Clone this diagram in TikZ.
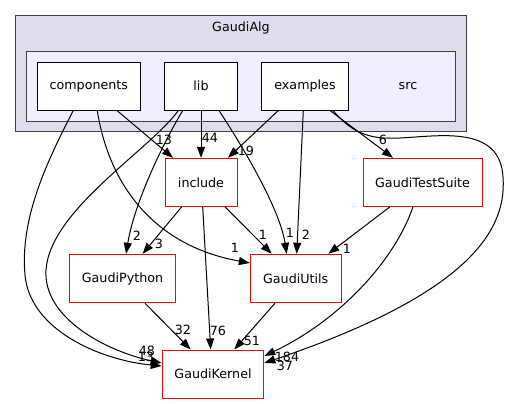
\documentclass[tikz,border=0pt]{standalone}
\usepackage{fontspec}
\setmainfont{DejaVu Sans}
\usetikzlibrary{arrows.meta}
\definecolor{outerfill}{HTML}{DDDDEE}
\definecolor{innerfill}{HTML}{EEEEFF}
\definecolor{clusterline}{HTML}{404040}
\begin{document}
\begin{tikzpicture}[x=1pt,y=-1pt,
  every node/.style={font=\fontsize{12.7}{15}\selectfont},
  dirbox/.style={draw=black,line width=1pt,fill=white,minimum height=47.7pt,inner sep=0pt},
  redbox/.style={draw=red,line width=1pt,fill=white,minimum height=48pt,inner sep=0pt},
  lbl/.style={inner sep=0pt,font=\fontsize{12.7}{15}\selectfont},
  dep/.style={draw=black,line width=1pt,-{Triangle[length=11pt,width=8pt]}}]
\useasboundingbox (0,0) rectangle (509,404);
% clusters
\draw[clusterline,line width=1pt,fill=outerfill] (15.7,15.7) rectangle (466.7,131.3);
\node[lbl] (galg) at (241,27.7) {GaudiAlg};
\draw[clusterline,line width=1pt,fill=innerfill] (26.3,51.7) rectangle (455.7,121);
\node[lbl] (srclbl) at (408,86) {src};
% directory nodes
\node[dirbox,minimum width=103pt] (comp) at (88.8,86.2) {components};
\node[dirbox,minimum width=72.6pt] (lib) at (201,86.2) {lib};
\node[dirbox,minimum width=87.4pt] (exa) at (305,86.2) {examples};
\node[redbox,minimum width=72pt] (inc) at (201,182.3) {include};
\node[redbox,minimum width=119pt] (gts) at (422.5,182.3) {GaudiTestSuite};
\node[redbox,minimum width=105.6pt,minimum height=48.4pt] (gp) at (122.5,278.5) {GaudiPython};
\node[redbox,minimum width=90.7pt,minimum height=48.4pt] (gu) at (295.7,278.5) {GaudiUtils};
\node[redbox,minimum width=101.7pt] (gk) at (213,374) {GaudiKernel};
% edges from components
\draw[dep] ([xshift=28.2pt]comp.south) -- ([xshift=-28pt]inc.north);
\draw[dep] ([xshift=-15.5pt]comp.south) .. controls (45,165) and (20,220) .. (25,275)
  .. controls (30,330) and (100,360) .. ([yshift=8pt]gk.west);
\draw[dep] ([xshift=8.5pt]comp.south) .. controls (108,180) and (150,245) .. ([yshift=15.5pt]gu.west);
% edges from lib
\draw[dep] (lib.south) -- (inc.north);
\draw[dep] ([xshift=-18.3pt]lib.south) .. controls (165,140) and (135,200) .. ([xshift=3.5pt]gp.north);
\draw[dep] ([xshift=-22.7pt]lib.south) .. controls (150,150) and (50,210) .. (46,270)
  .. controls (43,320) and (110,352) .. ([yshift=11pt]gk.west);
\draw[dep] ([xshift=18pt]lib.south) .. controls (245,150) and (280,210) .. ([xshift=-9pt]gu.north);
% edges from examples
\draw[dep] ([xshift=-26.7pt]exa.south) -- ([xshift=27pt]inc.north);
\draw[dep] ([xshift=-1.7pt]exa.south) -- ([xshift=1pt]gu.north);
\draw[dep] ([xshift=25pt]exa.south) -- ([xshift=-29.5pt]gts.north);
\draw[dep] ([xshift=28pt]exa.south) .. controls (350,130) and (365,140) .. (400,138)
  .. controls (440,136) and (500,125) .. (503,177)
  .. controls (508,240) and (450,300) .. ([yshift=11pt]gk.east);
% edges from include
\draw[dep] ([xshift=-19.3pt]inc.south) -- ([xshift=20.2pt]gp.north);
\draw[dep] ([xshift=24pt]inc.south) -- ([xshift=-24pt]gu.north);
\draw[dep] ([xshift=1.7pt]inc.south) -- ([xshift=-2.3pt]gk.north);
% other edges
\draw[dep] ([xshift=-32.5pt]gts.south) -- ([xshift=32.6pt]gu.north);
\draw[dep] ([xshift=-9.5pt]gts.south) .. controls (395,260) and (340,320) .. ([yshift=18pt]gk.east);
\draw[dep] ([xshift=22.5pt]gp.south) -- ([xshift=-22.3pt]gk.north);
\draw[dep] ([xshift=-20.7pt]gu.south) -- ([xshift=21.3pt]gk.north);
% labels
\node[lbl] (l1) at (164,140) {13};
\node[lbl] (l2) at (210,138) {44};
\node[lbl] (l3) at (246,151) {19};
\node[lbl] (l4) at (383,140) {6};
\node[lbl] (l5) at (137,236) {2};
\node[lbl] (l6) at (159,244) {3};
\node[lbl] (l7) at (235,248) {1};
\node[lbl] (l8) at (263,235) {1};
\node[lbl] (l9) at (290,233) {1};
\node[lbl] (l10) at (306,235) {2};
\node[lbl] (l11) at (347,249) {1};
\node[lbl] (l12) at (183,330) {32};
\node[lbl] (l13) at (218,330.7) {76};
\node[lbl] (l14) at (252,340.7) {51};
\node[lbl] (l15) at (147,350.7) {48};
\node[lbl] (l16) at (146,356.7) {13};
\node[lbl] (l17) at (287,357) {184};
\node[lbl] (l18) at (285,366) {37};
\end{tikzpicture}
\end{document}
